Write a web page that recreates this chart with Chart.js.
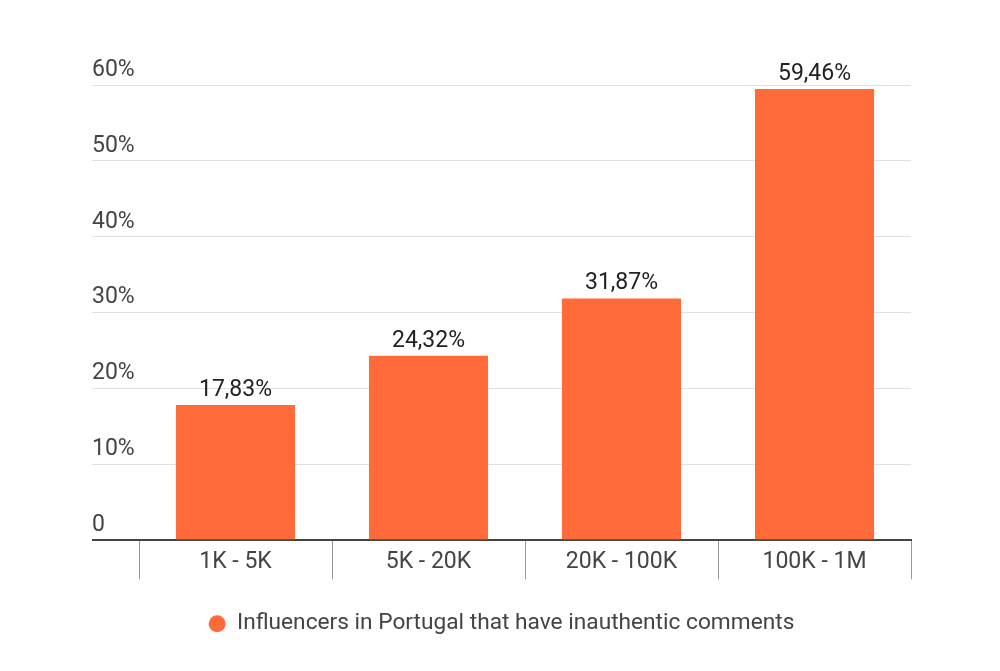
<!DOCTYPE html>
<html>
<head>
<meta charset="utf-8">
<script src="https://cdn.jsdelivr.net/npm/chart.js@4.4.0/dist/chart.umd.min.js"></script>
<style>
html,body{margin:0;padding:0;background:#fff;}
#wrap{width:1000px;height:671px;}
</style>
</head>
<body>
<div id="wrap"><canvas id="c" width="1000" height="671"></canvas></div>
<script>
const categories = ['1K - 5K', '5K - 20K', '20K - 100K', '100K - 1M'];
const values = [17.83, 24.32, 31.87, 59.46];
const seriesName = 'Influencers in Portugal that have inauthentic comments';
const yTicks = [0, 10, 20, 30, 40, 50, 60];

const FONT = 'Roboto, "Noto Sans", sans-serif';

const valueLabels = {
  id: 'valueLabels',
  afterDatasetsDraw(chart) {
    const ctx = chart.ctx;
    const meta = chart.getDatasetMeta(0);
    ctx.save();
    ctx.font = '23px ' + FONT;
    ctx.fillStyle = '#222';
    ctx.textAlign = 'center';
    ctx.textBaseline = 'alphabetic';
    meta.data.forEach((bar, i) => {
      const txt = values[i].toFixed(2).replace('.', ',') + '%';
      ctx.fillText(txt, bar.x, bar.y - 9);
    });
    ctx.restore();
  }
};

new Chart(document.getElementById('c'), {
  type: 'bar',
  data: {
    labels: categories,
    datasets: [{
      label: seriesName,
      data: values,
      backgroundColor: '#FF6B38',
      borderWidth: 0,
      categoryPercentage: 1,
      barPercentage: 0.617
    }]
  },
  options: {
    responsive: false,
    animation: false,
    devicePixelRatio: 1,
    layout: { padding: { left: 92, right: 89, top: 85, bottom: 26 } },
    plugins: {
      tooltip: { enabled: false },
      legend: {
        position: 'bottom',
        labels: {
          usePointStyle: true,
          pointStyle: 'circle',
          boxWidth: 17,
          boxHeight: 12,
          padding: 10,
          color: '#444',
          font: { family: FONT, size: 22.7 }
        }
      }
    },
    scales: {
      x: {
        offset: true,
        grid: {
          offset: true,
          drawOnChartArea: false,
          drawTicks: true,
          tickLength: 39,
          color: '#999',
          lineWidth: 1
        },
        border: { display: true, color: '#444', width: 2 },
        ticks: {
          padding: -31,
          color: '#444',
          font: { family: FONT, size: 23 }
        },
        afterFit(scale) { scale.height = 62; }
      },
      y: {
        min: 0,
        max: 60,
        afterBuildTicks(scale) { scale.ticks = yTicks.map(v => ({ value: v })); },
        grid: {
          drawTicks: true,
          tickLength: 47,
          color: ctx => (ctx.tick && ctx.tick.value === 0) ? '#444' : '#e0e0e0',
          lineWidth: ctx => (ctx.tick && ctx.tick.value === 0) ? 2 : 1
        },
        border: { display: false },
        ticks: {
          crossAlign: 'far',
          labelOffset: -15,
          padding: 0,
          color: '#444',
          font: { family: FONT, size: 23 },
          callback: v => v === 0 ? '0' : v + '%'
        },
        afterFit(scale) { scale.width = 47; }
      }
    }
  },
  plugins: [valueLabels]
});
</script>
</body>
</html>
